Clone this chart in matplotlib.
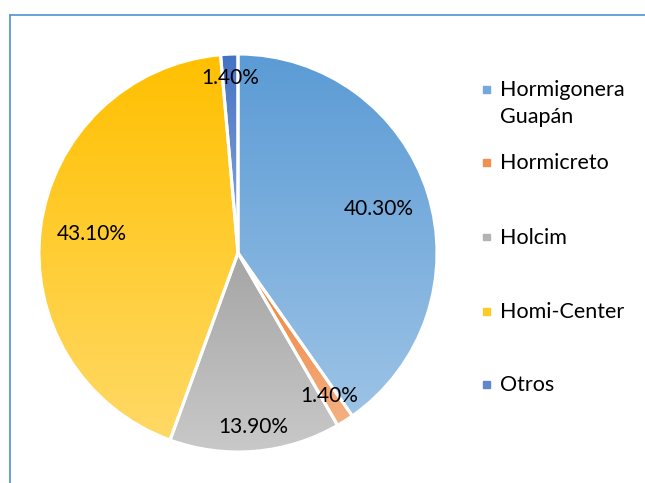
import numpy as np
import matplotlib
matplotlib.use("Agg")
import matplotlib.pyplot as plt
from matplotlib.lines import Line2D
from matplotlib.colors import to_rgb

categories = ["Hormigonera\nGuapán", "Hormicreto", "Holcim", "Homi-Center", "Otros"]
values = [40.3, 1.4, 13.9, 43.1, 1.4]
colors = ["#5B9BD5", "#ED7D31", "#A5A5A5", "#FFC000", "#4472C4"]
label_r = [0.74, 0.855, 0.88, 0.74, 0.88]

FONT = ["Lato", "DejaVu Sans"]
W, H = 645, 483
fig = plt.figure(figsize=(W / 100, H / 100), dpi=100)

# frame lines (top and left)
fig.add_artist(Line2D([9.5 / W, 1], [1 - 14.5 / H, 1 - 14.5 / H], color="#5B9BD5", lw=1.3))
fig.add_artist(Line2D([9.5 / W, 9.5 / W], [0, 1 - 14.5 / H], color="#5B9BD5", lw=1.3))

cx, cy, R = 238, 253, 199
ax = fig.add_axes([(cx - R) / W, 1 - (cy + R) / H, 2 * R / W, 2 * R / H])
ax.axis("off")

wedges, _ = ax.pie(values, colors=colors, startangle=90, counterclock=False,
                   radius=1.0,
                   wedgeprops=dict(edgecolor="white", linewidth=2.2))

def tint(c, f):
    r = np.array(to_rgb(c))
    return r + (1 - r) * f

for w, c in zip(wedges, colors):
    verts = w.get_path().vertices
    ymin, ymax = verts[:, 1].min(), verts[:, 1].max()
    top = tint(c, 0.0)
    bot = tint(c, 0.4)
    t = np.linspace(0, 1, 256)[:, None]
    grad = top[None, :] * (1 - t) + bot[None, :] * t
    img = np.repeat(grad[:, None, :], 2, axis=1)
    im = ax.imshow(img, extent=[-1, 1, ymin, ymax], origin="upper",
                   aspect="auto", zorder=w.get_zorder() + 0.1, interpolation="bilinear")
    im.set_clip_path(w)
    w.set_facecolor("none")
    w.set_zorder(w.get_zorder() + 0.2)

total = sum(values)
ang = 90.0
for v, lr in zip(values, label_r):
    span = 360.0 * v / total
    mid = np.deg2rad(ang - span / 2)
    ang -= span
    ax.text(lr * np.cos(mid), lr * np.sin(mid), f"{v:.2f}%", ha="center", va="center",
            fontsize=15, family=FONT, color="black", zorder=10)
ax.set_xlim(-1, 1)
ax.set_ylim(-1, 1)

# legend
leg_y = [89, 162, 237, 311, 384]
for cat, c, y in zip(categories, colors, leg_y):
    fig.patches.append(plt.Rectangle(((483) / W, 1 - (y + 3.5) / H), 7 / W, 7 / H,
                                     transform=fig.transFigure, color=tint(c, 0.15), figure=fig))
    fig.text(500 / W, 1 - (y - 9) / H, cat, ha="left", va="top", fontsize=15.5,
             family=FONT, color="black", linespacing=1.45)

fig.savefig("out.png", dpi=100)
